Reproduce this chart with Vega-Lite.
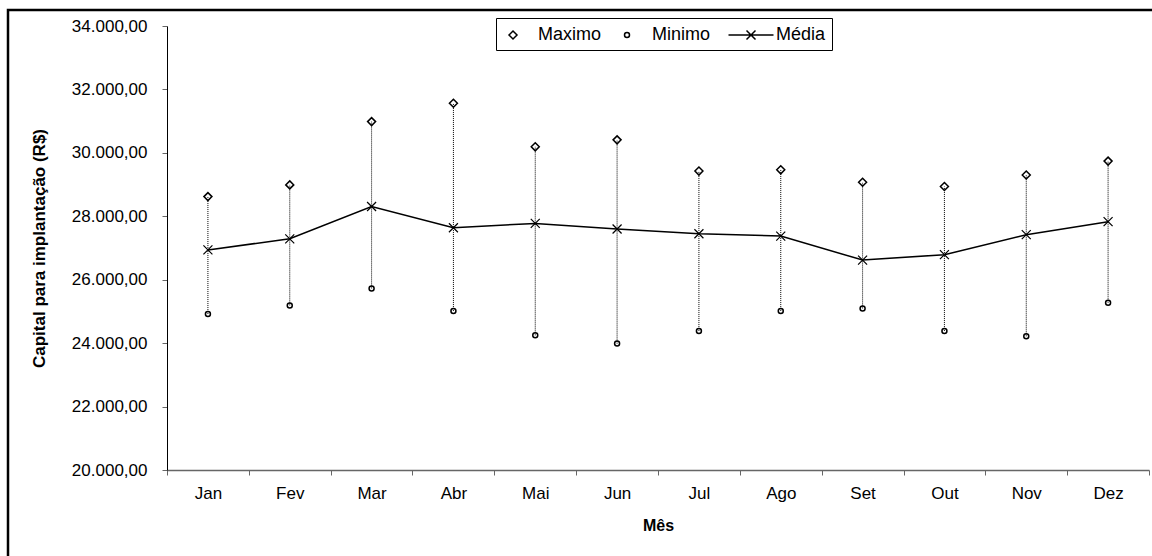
{
  "$schema": "https://vega.github.io/schema/vega-lite/v6.json",
  "width": 1150,
  "height": 552,
  "autosize": {"type": "none"},
  "padding": {"left": 8, "top": 10, "right": -6, "bottom": -6},
  "background": "white",
  "config": {
    "font": "Liberation Sans",
    "view": {"stroke": "black", "strokeWidth": 2.5},
    "axis": {"grid": false}
  },
  "data": {
    "values": [
      {"mes": "Jan", "maximo": 28620, "minimo": 24920, "media": 26940},
      {"mes": "Fev", "maximo": 28990, "minimo": 25190, "media": 27290},
      {"mes": "Mar", "maximo": 30985, "minimo": 25725, "media": 28310},
      {"mes": "Abr", "maximo": 31565, "minimo": 25015, "media": 27640},
      {"mes": "Mai", "maximo": 30190, "minimo": 24245, "media": 27775},
      {"mes": "Jun", "maximo": 30410, "minimo": 23985, "media": 27600},
      {"mes": "Jul", "maximo": 29425, "minimo": 24385, "media": 27450},
      {"mes": "Ago", "maximo": 29465, "minimo": 25015, "media": 27375},
      {"mes": "Set", "maximo": 29075, "minimo": 25095, "media": 26620},
      {"mes": "Out", "maximo": 28940, "minimo": 24385, "media": 26790},
      {"mes": "Nov", "maximo": 29300, "minimo": 24215, "media": 27420},
      {"mes": "Dez", "maximo": 29740, "minimo": 25275, "media": 27830}
    ]
  },
  "encoding": {
    "x": {
      "field": "mes",
      "type": "nominal",
      "sort": null,
      "scale": {"range": [159, 1141], "paddingInner": 0, "paddingOuter": 0},
      "axis": {
        "title": "Mês",
        "titleFontSize": 16,
        "titleFontWeight": "bold",
        "titlePadding": 16,
        "titleColor": "black",
        "labelAngle": 0,
        "labelFontSize": 17,
        "labelPadding": 10,
        "labelColor": "black",
        "tickSize": 5,
        "tickBand": "extent",
        "tickColor": "#666666",
        "domainColor": "#666666",
        "domainWidth": 1.5,
        "offset": -92
      }
    }
  },
  "layer": [
    {
      "mark": {"type": "rule", "strokeDash": [1, 1], "color": "black", "strokeWidth": 1},
      "encoding": {
        "y": {
          "field": "minimo",
          "type": "quantitative",
          "title": "Capital para implantação (R$)",
          "scale": {"domain": [20000, 34000], "range": [460, 16], "nice": false, "zero": false},
          "axis": {
            "values": [20000, 22000, 24000, 26000, 28000, 30000, 32000, 34000],
            "labelExpr": "replace(replace(replace(format(datum.value, ',.2f'), ',', '#'), '.', ','), '#', '.')",
            "labelFontSize": 17,
            "labelPadding": 15,
            "labelColor": "black",
            "tickSize": 5,
            "tickColor": "#666666",
            "domainColor": "black",
            "offset": -159,
            "titleFontSize": 17,
            "titleFontWeight": "bold",
            "titleColor": "black",
            "titlePadding": 23
          }
        },
        "y2": {"field": "maximo"}
      }
    },
    {
      "mark": {"type": "line", "color": "black", "strokeWidth": 1.5},
      "encoding": {
        "y": {"field": "media", "type": "quantitative", "title": "Capital para implantação (R$)"}
      }
    },
    {
      "mark": {"type": "point", "filled": false, "size": 400, "strokeWidth": 1.5, "color": "black", "opacity": 1},
      "encoding": {
        "y": {"field": "maximo", "type": "quantitative", "title": "Capital para implantação (R$)"},
        "shape": {
          "datum": "Maximo",
          "type": "nominal",
          "scale": {
            "domain": ["Maximo", "Minimo", "Média"],
            "range": [
              "M0,-0.4L0.4,0L0,0.4L-0.4,0Z",
              "M0.25,0A0.25,0.25,0,1,1,-0.25,0A0.25,0.25,0,1,1,0.25,0Z",
              "M-2.25,0L2.25,0M-0.45,-0.45L0.45,0.45M-0.45,0.45L0.45,-0.45"
            ]
          },
          "legend": {
            "title": null,
            "orient": "none",
            "legendX": 488,
            "legendY": 8,
            "direction": "horizontal",
            "columns": 3,
            "strokeColor": "black",
            "fillColor": "white",
            "padding": 6,
            "columnPadding": 14,
            "labelOffset": 14,
            "labelFontSize": 18,
            "labelColor": "black",
            "symbolSize": 400,
            "symbolStrokeWidth": 1.5,
            "symbolStrokeColor": "black",
            "symbolFillColor": "transparent"
          }
        }
      }
    },
    {
      "mark": {"type": "point", "filled": false, "size": 400, "strokeWidth": 1.5, "color": "black", "opacity": 1},
      "encoding": {
        "y": {"field": "minimo", "type": "quantitative", "title": "Capital para implantação (R$)"},
        "shape": {"datum": "Minimo", "type": "nominal"}
      }
    },
    {
      "mark": {"type": "point", "filled": false, "size": 81, "strokeWidth": 1.2, "color": "black", "opacity": 1, "shape": "M-1,-1L1,1M-1,1L1,-1"},
      "encoding": {
        "y": {"field": "media", "type": "quantitative", "title": "Capital para implantação (R$)"}
      }
    }
  ]
}
